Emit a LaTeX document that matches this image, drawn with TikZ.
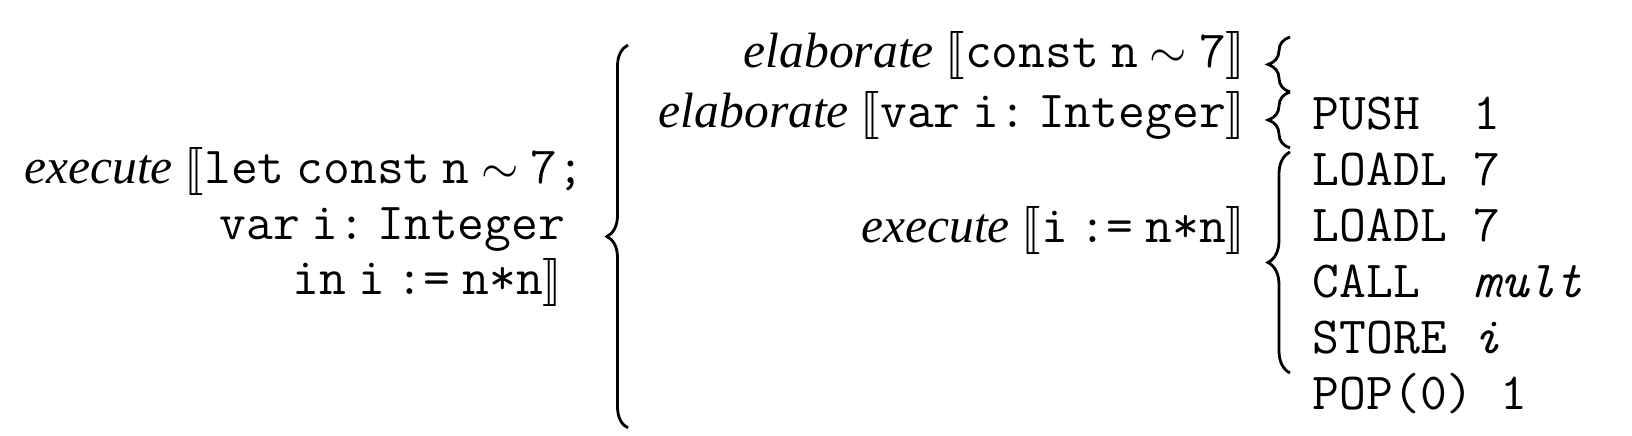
\documentclass[tikz,border=0pt]{standalone}
\usepackage{fontspec}
\usepackage{stmaryrd}
\setmainfont{Liberation Serif}
\setmonofont{Latin Modern Mono}[Scale=1.05]
\usetikzlibrary{decorations.pathreplacing}

\newcommand{\lsem}{$\llbracket$}
\newcommand{\rsem}{$\rrbracket$}
\newcommand{\tightspace}{\spaceskip=0.24em\relax}

\begin{document}
\begin{tikzpicture}[x=0.25pt,y=-0.25pt,
    every node/.style={inner sep=0pt,font=\fontsize{12.4}{15}\selectfont},
    src/.style={anchor=base east},
    code/.style={anchor=base west,font={\fontsize{12.4}{15}\selectfont\ttfamily}},
    curly/.style={decorate,decoration={brace,amplitude=#1},line width=0.7pt},
    curly/.default=5.5pt]
  \useasboundingbox (0,0) rectangle (1632,436);

  % the whole command
  \node[src] (prog1) at (585,184) {\tightspace\textit{execute} \lsem\texttt{let const n $\sim$ 7;}};
  \node[src] (prog2) at (566,240) {\tightspace\texttt{var i: Integer}};
  \node[src] (prog3) at (563,295) {\tightspace\texttt{in i := n*n}\rsem};

  % its parts
  \node[src] (elabconst) at (1246,68) {\tightspace\textit{elaborate} \lsem\texttt{const n $\sim$ 7}\rsem};
  \node[src] (elabvar) at (1246,128) {\tightspace\textit{elaborate} \lsem\texttt{var i: Integer}\rsem};
  \node[src] (execasg) at (1246,243) {\tightspace\textit{execute} \lsem\texttt{i := n*n}\rsem};

  % object code
  \node[code] (push) at (1312,130) {PUSH\ \ 1};
  \node[code] (loadn1) at (1312,186) {LOADL\ 7};
  \node[code] (loadn2) at (1312,242) {LOADL\ 7};
  \node[code] (call) at (1312,298) {CALL\ \ \textit{mult}};
  \node[code] (store) at (1312,354) {STORE\ \textit{i}};
  \node[code] (pop) at (1312,410) {POP(0)\ 1};

  \coordinate (allbot) at (628,428);
  \coordinate (alltop) at (628,45);
  \coordinate (constbot) at (1290,92);
  \coordinate (consttop) at (1290,37);
  \coordinate (varbot) at (1290,148);
  \coordinate (vartop) at (1290,92);
  \coordinate (asgbot) at (1290,373);
  \coordinate (asgtop) at (1290,152);

  \draw[curly=5.25pt] (allbot) -- (alltop);
  \draw[curly] (constbot) -- (consttop);
  \draw[curly] (varbot) -- (vartop);
  \draw[curly] (asgbot) -- (asgtop);
\end{tikzpicture}
\end{document}
